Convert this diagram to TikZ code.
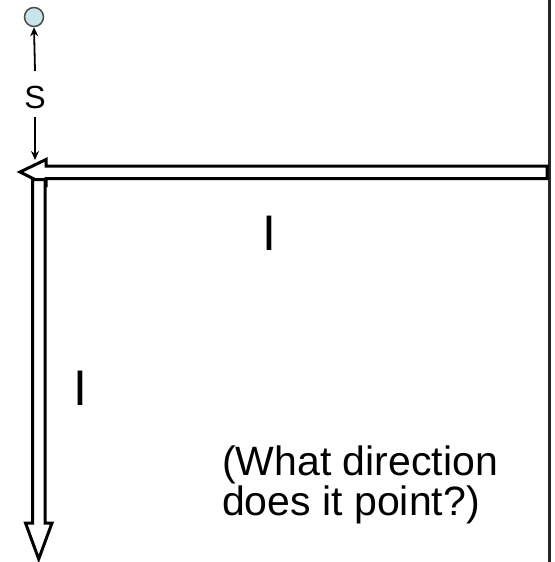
\documentclass[tikz,border=0pt]{standalone}
\usepackage{fontspec}
\setmainfont{Liberation Sans}
\usetikzlibrary{arrows.meta}
\definecolor{chargefill}{HTML}{C9E5EA}
\begin{document}
\begin{tikzpicture}[x=1pt,y=-1pt,
  hollow/.style={draw=black,line width=3pt,fill=white,line join=miter},
  thin arrow/.style={line width=1.8pt,-{Stealth[length=9pt,width=8pt]}},
  lbl/.style={inner sep=0pt,anchor=base}]
\useasboundingbox (0,0) rectangle (554,562);
\fill[white] (0,0) rectangle (554,562);
% wire on the right
\draw[black!85,line width=3pt] (549,0) -- (549,562);
% horizontal hollow arrow (pointing left)
\draw[hollow] (547,166) -- (46,166) -- (46,159.5) -- (20,172) -- (46,185) -- (46,178.5) -- (547,178.5) -- cycle;
% vertical hollow arrow (pointing down)
\draw[hollow] (32.5,179.5) -- (45,179.5) -- (45,523) -- (52,523) -- (38.7,559) -- (25.5,523) -- (32.5,523) -- cycle;
% charge and distance s
\node[circle,draw=black!70,line width=1.5pt,fill=chargefill,minimum size=19pt,inner sep=0pt] (q) at (34,17) {};
\node[lbl,font=\fontsize{32}{32}\selectfont] (s) at (35,108) {S};
\coordinate (sup) at (35,71);
\coordinate (sdown) at (35,117);
\coordinate (wire) at (35,160);
\draw[thin arrow] (sup) -- (q.south);
\draw[thin arrow] (sdown) -- (wire);
% labels
\node[lbl,font=\fontsize{50}{50}\selectfont] (i1) at (269,250) {I};
\node[lbl,font=\fontsize{50}{50}\selectfont] (i2) at (80,405) {I};
\node[inner sep=0pt,anchor=base west,font=\fontsize{41}{40}\selectfont] (t1) at (222,475) {(What direction};
\node[inner sep=0pt,anchor=base west,font=\fontsize{41}{40}\selectfont] (t2) at (222,515) {does it point?)};
\end{tikzpicture}
\end{document}
